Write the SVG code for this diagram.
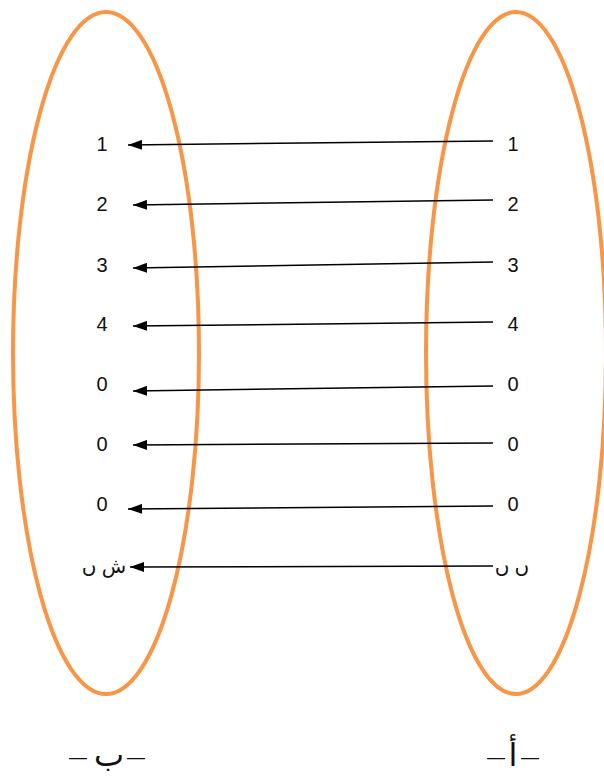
<svg xmlns="http://www.w3.org/2000/svg" width="604" height="783" viewBox="0 0 604 783">
<style>
.set{fill:none;stroke:#F79646;stroke-width:4}
.t{font-family:"Liberation Sans","Noto Sans",sans-serif;font-size:20px;fill:#111;text-anchor:middle}
.ar{font-family:"Noto Sans","DejaVu Sans",sans-serif;font-size:20px;fill:#111;text-anchor:middle}
.bt{font-family:"DejaVu Sans","Noto Sans",sans-serif;font-size:32px;fill:#111;text-anchor:middle}
.d{font-family:"Liberation Sans",sans-serif;font-size:18px;fill:#111;text-anchor:middle}
.c{stroke:#000;stroke-width:1.5;fill:none;marker-end:url(#ah)}
</style>
<defs>
<marker id="ah" viewBox="0 0 14 10" refX="14" refY="5" markerWidth="14" markerHeight="10" markerUnits="userSpaceOnUse" orient="auto"><path d="M0,0 L14,5 L0,10 z" fill="#000"/></marker>
</defs>
<rect width="604" height="783" fill="#fff"/>
<g id="setB"><ellipse class="set" cx="106" cy="353" rx="93" ry="341"/></g>
<g id="setA"><ellipse class="set" cx="516" cy="353" rx="90" ry="341"/></g>
<g id="connectors">
<line class="c" x1="493" y1="141" x2="128" y2="145"/>
<line class="c" x1="493" y1="200" x2="133" y2="205"/>
<line class="c" x1="493" y1="262" x2="133" y2="268"/>
<line class="c" x1="493" y1="322" x2="133" y2="326"/>
<line class="c" x1="493" y1="386" x2="133" y2="391"/>
<line class="c" x1="493" y1="443" x2="133" y2="445"/>
<line class="c" x1="493" y1="506" x2="128" y2="509"/>
<line class="c" x1="493" y1="566" x2="130" y2="567"/>
</g>
<g id="labelsB">
<text class="t" x="102" y="151">1</text>
<text class="t" x="102" y="211">2</text>
<text class="t" x="102" y="272">3</text>
<text class="t" x="102" y="331">4</text>
<text class="t" x="102" y="391">0</text>
<text class="t" x="102" y="451">0</text>
<text class="t" x="102" y="511">0</text>
<text class="ar" x="104" y="573">ش ں</text>
<text class="d" x="78" y="763">—</text>
<text class="bt" x="109" y="766">ب</text>
<text class="d" x="136" y="763">—</text>
</g>
<g id="labelsA">
<text class="t" x="513" y="151">1</text>
<text class="t" x="513" y="211">2</text>
<text class="t" x="513" y="272">3</text>
<text class="t" x="513" y="331">4</text>
<text class="t" x="513" y="391">0</text>
<text class="t" x="513" y="451">0</text>
<text class="t" x="513" y="511">0</text>
<text class="ar" x="512" y="573">ں ں</text>
<text class="d" x="496" y="763">—</text>
<text class="bt" x="513" y="766">أ</text>
<text class="d" x="530" y="763">—</text>
</g>
</svg>
